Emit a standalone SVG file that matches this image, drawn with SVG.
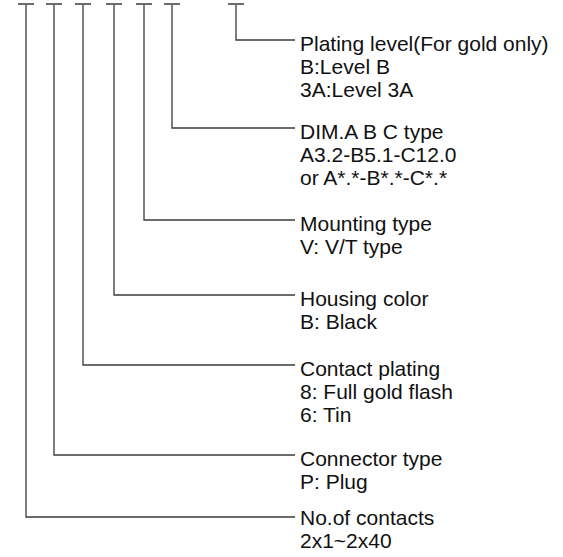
<svg xmlns="http://www.w3.org/2000/svg" width="563" height="557" viewBox="0 0 563 557">
<style>
.ln{fill:none;stroke:#3a3a3a;stroke-width:1.3}
.bar{stroke:#6a6a6a;stroke-width:2}
text{font-family:"Liberation Sans",Arial,sans-serif;font-size:21px;fill:#111}
</style>
<rect width="563" height="557" fill="#fff"/>
<g id="connectors">
<path class="ln" d="M236 4V40H295"/>
<path class="ln" d="M172 4V128H295"/>
<path class="ln" d="M144 4V220H295"/>
<path class="ln" d="M114 4V295H295"/>
<path class="ln" d="M83 4V365H295"/>
<path class="ln" d="M54 4V455H295"/>
<path class="ln" d="M26 4V517H295"/>
<line class="bar" x1="18" y1="4" x2="34" y2="4"/>
<line class="bar" x1="46" y1="4" x2="62" y2="4"/>
<line class="bar" x1="75" y1="4" x2="91" y2="4"/>
<line class="bar" x1="106" y1="4" x2="122" y2="4"/>
<line class="bar" x1="136" y1="4" x2="152" y2="4"/>
<line class="bar" x1="164" y1="4" x2="180" y2="4"/>
<line class="bar" x1="228" y1="4" x2="244" y2="4"/>
</g>
<g id="plating-level"><text x="300" y="51">Plating level(For gold only)</text><text x="300" y="74">B:Level B</text><text x="300" y="97">3A:Level 3A</text></g>
<g id="dim-type"><text x="300" y="139">DIM.A B C type</text><text x="300" y="162">A3.2-B5.1-C12.0</text><text x="300" y="185">or A*.*-B*.*-C*.*</text></g>
<g id="mounting-type"><text x="300" y="231">Mounting type</text><text x="300" y="254">V: V/T type</text></g>
<g id="housing-color"><text x="300" y="306">Housing color</text><text x="300" y="329">B: Black</text></g>
<g id="contact-plating"><text x="300" y="376">Contact plating</text><text x="300" y="399">8: Full gold flash</text><text x="300" y="422">6: Tin</text></g>
<g id="connector-type"><text x="300" y="466">Connector type</text><text x="300" y="489">P: Plug</text></g>
<g id="no-of-contacts"><text x="300" y="525">No.of contacts</text><text x="300" y="548">2x1~2x40</text></g>
</svg>
